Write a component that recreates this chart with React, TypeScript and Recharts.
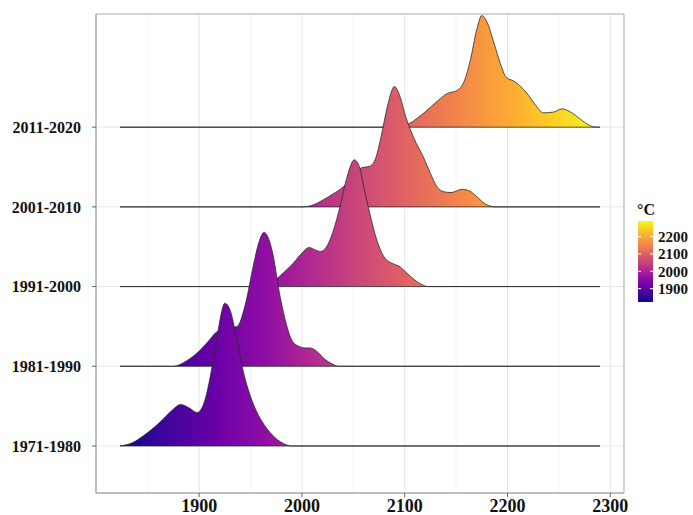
import React from "react";
import {
  AreaChart,
  Area,
  XAxis,
  YAxis,
  CartesianGrid,
  ReferenceArea,
} from "recharts";

// ridge labels, bottom to top
const periods = ["1971-1980", "1981-1990", "1991-2000", "2001-2010", "2011-2020"];

const xTicks = [1900, 2000, 2100, 2200, 2300];
const xMinor = [1850, 1950, 2050, 2150, 2250];
const legendTicks = [1900, 2000, 2100, 2200];

// density curves (x value, ridge height in row units)
const x1971 = [1823, 1835, 1846, 1862, 1873, 1882, 1890, 1898, 1905, 1911, 1918, 1925, 1930, 1936, 1943, 1950, 1956, 1963, 1969, 1976, 1982, 1990, 2290];
const h1971 = [0, 0.04, 0.13, 0.3, 0.44, 0.52, 0.48, 0.42, 0.55, 0.88, 1.42, 1.79, 1.71, 1.38, 0.93, 0.62, 0.43, 0.27, 0.17, 0.08, 0.03, 0, 0];

const x1981 = [1823, 1875, 1888, 1900, 1910, 1916, 1925, 1937, 1945, 1953, 1958, 1963, 1967, 1971, 1979, 1985, 1990, 1997, 2003, 2008, 2016, 2022, 2028, 2036, 2290];
const h1981 = [0, 0, 0.07, 0.19, 0.33, 0.42, 0.47, 0.5, 0.78, 1.28, 1.55, 1.68, 1.62, 1.45, 0.86, 0.52, 0.33, 0.25, 0.23, 0.23, 0.17, 0.09, 0.04, 0, 0];

const x1991 = [1823, 1955, 1965, 1972, 1980, 1992, 2000, 2007, 2013, 2018, 2024, 2030, 2037, 2044, 2051, 2056, 2060, 2066, 2072, 2080, 2088, 2094, 2102, 2110, 2116, 2123, 2290];
const h1991 = [0, 0, 0.02, 0.06, 0.15, 0.3, 0.42, 0.49, 0.46, 0.44, 0.5, 0.68, 1.0, 1.38, 1.59, 1.5, 1.26, 0.92, 0.62, 0.37, 0.29, 0.26, 0.17, 0.08, 0.03, 0, 0];

const x2001 = [1823, 2001, 2012, 2021, 2030, 2041, 2050, 2058, 2066, 2072, 2077, 2083, 2090, 2095, 2101, 2109, 2118, 2125, 2131, 2138, 2145, 2156, 2163, 2170, 2178, 2188, 2290];
const h2001 = [0, 0, 0.03, 0.09, 0.16, 0.26, 0.38, 0.49, 0.51, 0.62, 0.88, 1.25, 1.51, 1.4, 1.13, 0.86, 0.63, 0.42, 0.26, 0.19, 0.18, 0.22, 0.2, 0.13, 0.04, 0, 0];

const x2011 = [1823, 2095, 2105, 2115, 2125, 2133, 2141, 2151, 2158, 2164, 2170, 2175, 2180, 2187, 2193, 2199, 2206, 2212, 2218, 2226, 2235, 2245, 2253, 2260, 2266, 2273, 2280, 2287, 2290];
const h2011 = [0, 0, 0.05, 0.14, 0.25, 0.34, 0.42, 0.46, 0.58, 0.85, 1.22, 1.4, 1.32, 1.05, 0.8, 0.62, 0.58, 0.52, 0.44, 0.3, 0.18, 0.19, 0.23, 0.2, 0.15, 0.08, 0.02, 0, 0];

const xs = [x1971, x1981, x1991, x2001, x2011];
const hs = [h1971, h1981, h1991, h2001, h2011];

const dataMin = 1823;
const dataMax = 2290;
const xDomain = [1799.65, 2313.35];
const yDomain = [0.41, 6.42];

const plasma = [
  "#0d0887", "#41049d", "#6a00a8", "#8f0da4", "#b12a90", "#cc4778",
  "#e16462", "#f2844b", "#fca636", "#fcce25", "#f0f921",
];

const ridges = periods.map((name, i) => ({
  name,
  rows: xs[i].map((x, j) => ({ x, v: [i + 1, i + 1 + hs[i][j]] })),
}));

const serif = '"Liberation Serif", "Times New Roman", serif';

function ColorBar() {
  const top = 221;
  const h = 81;
  const pos = (v: number) => top + h - ((v - dataMin) / (dataMax - dataMin)) * h;
  return (
    <svg width={60} height={110} style={{ position: "absolute", left: 633, top: 195 }}>
      <defs>
        <linearGradient id="plasmaV" x1="0" y1="1" x2="0" y2="0">
          {plasma.map((c, i) => (
            <stop key={i} offset={i / (plasma.length - 1)} stopColor={c} />
          ))}
        </linearGradient>
      </defs>
      <text x={4} y={20} fontFamily={serif} fontWeight="bold" fontSize={16} fill="#111">°C</text>
      <g transform="translate(-633,-195)">
        <rect x={638} y={top} width={15} height={h} fill="url(#plasmaV)" />
        {legendTicks.map((t) => (
          <g key={t}>
            <line x1={638} x2={641} y1={pos(t)} y2={pos(t)} stroke="#fff" strokeWidth={1} />
            <line x1={650} x2={653} y1={pos(t)} y2={pos(t)} stroke="#fff" strokeWidth={1} />
            <text x={658} y={pos(t)} dy="0.35em" fontFamily={serif} fontWeight="bold" fontSize={15} fill="#111">
              {t}
            </text>
          </g>
        ))}
      </g>
    </svg>
  );
}

export default function App() {
  return (
    <div style={{ position: "absolute", left: 0, top: 0, width: 693, height: 515, background: "#fff" }}>
      <AreaChart width={693} height={515} margin={{ top: 14, right: 69, left: 0, bottom: 0 }}>
        <defs>
          <linearGradient id="plasmaH" x1="0" y1="0" x2="1" y2="0">
            {plasma.map((c, i) => (
              <stop key={i} offset={i / (plasma.length - 1)} stopColor={c} />
            ))}
          </linearGradient>
        </defs>
        <CartesianGrid stroke="#f3f3f3" verticalValues={xMinor} horizontal={false} />
        <CartesianGrid stroke="#e6e6e6" verticalValues={xTicks} horizontalValues={[1, 2, 3, 4, 5]} />
        <XAxis
          type="number"
          dataKey="x"
          domain={xDomain}
          ticks={xTicks}
          allowDataOverflow
          height={22}
          tickSize={4}
          axisLine={{ stroke: "#a8a8a8" }}
          tickLine={{ stroke: "#666" }}
          tick={{ fontFamily: serif, fontWeight: "bold", fontSize: 18, fill: "#111" }}
        />
        <YAxis
          type="number"
          domain={yDomain}
          ticks={[1, 2, 3, 4, 5]}
          allowDataOverflow
          width={96}
          tickSize={4}
          tickMargin={11}
          axisLine={{ stroke: "#a8a8a8" }}
          tickLine={{ stroke: "#666" }}
          tickFormatter={(v: number) => periods[v - 1] ?? ""}
          tick={{ fontFamily: serif, fontWeight: "bold", fontSize: 16, fill: "#111" }}
        />
        {[...ridges].reverse().map((r) => (
          <Area
            key={r.name}
            data={r.rows}
            dataKey="v"
            type="monotone"
            fill="url(#plasmaH)"
            fillOpacity={1}
            stroke="#2a2a2a"
            strokeWidth={0.8}
            isAnimationActive={false}
            dot={false}
            activeDot={false}
          />
        ))}
        {/* panel border */}
        <ReferenceArea
          x1={xDomain[0]}
          x2={xDomain[1]}
          y1={yDomain[0]}
          y2={yDomain[1]}
          fill="none"
          stroke="#a8a8a8"
          strokeWidth={1}
          ifOverflow="extendDomain"
        />
      </AreaChart>
      <ColorBar />
    </div>
  );
}
